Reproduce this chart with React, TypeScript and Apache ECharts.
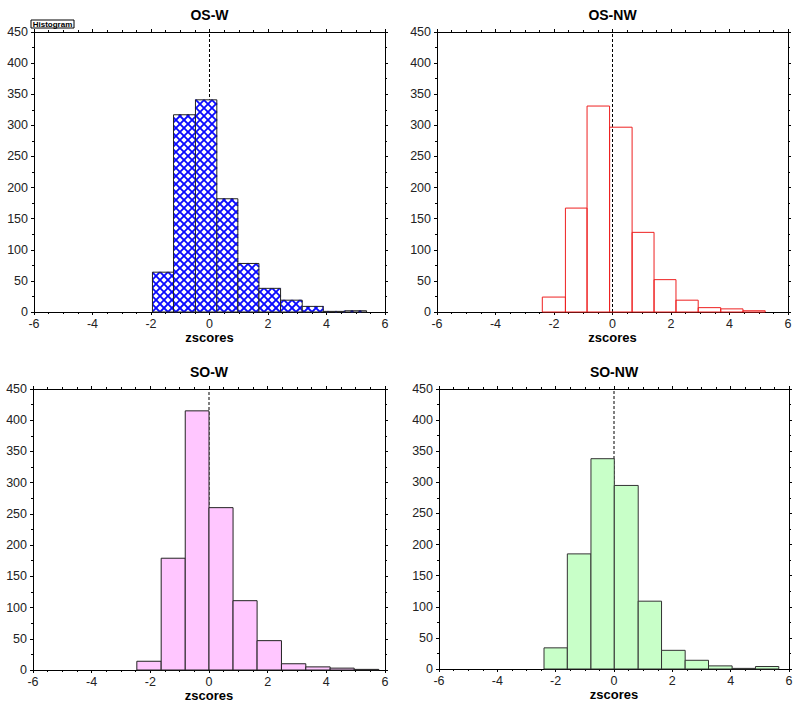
import React, { useEffect, useRef } from "react";
import * as echarts from "echarts";

const panelTitles = ["OS-W", "OS-NW", "SO-W", "SO-NW"];

// bin edges (zscores) and counts
const osWEdges = [-1.95, -1.23, -0.48, 0.25, 0.97, 1.69, 2.43, 3.17, 3.89, 4.63, 5.37];
const osWCounts = [64, 317, 341, 182, 78, 38, 19, 9, 1, 2];

const osNWEdges = [-2.4, -1.61, -0.87, -0.1, 0.67, 1.42, 2.17, 2.93, 3.7, 4.46, 5.22];
const osNWCounts = [24, 167, 331, 297, 128, 52, 19, 7, 5, 2];

const soWEdges = [-2.46, -1.63, -0.81, 0.0, 0.82, 1.64, 2.47, 3.3, 4.13, 4.95, 5.79];
const soWCounts = [14, 179, 415, 260, 111, 47, 10, 5, 3, 1];

const soNWEdges = [-2.4, -1.6, -0.79, 0.01, 0.83, 1.63, 2.44, 3.24, 4.05, 4.85, 5.65];
const soNWCounts = [34, 185, 338, 295, 109, 30, 14, 5, 1, 4];

const xMin = -6;
const xMax = 6;
const xStep = 2;
const yMin = 0;
const yMax = 450;
const yStep = 50;
const refLineX = 0;

const FONT = "'Liberation Sans', Arial, Helvetica, sans-serif";

const panels = [
  { edges: osWEdges, counts: osWCounts, kind: "hatch", fill: "#ffffff", stroke: "#222222" },
  { edges: osNWEdges, counts: osNWCounts, kind: "plain", fill: "none", stroke: "#ee2020" },
  { edges: soWEdges, counts: soWCounts, kind: "plain", fill: "#ffc6ff", stroke: "#222222" },
  { edges: soNWEdges, counts: soNWCounts, kind: "plain", fill: "#c8ffc8", stroke: "#333333" },
];

const grids = [
  { left: 34, top: 32, width: 351, height: 280 },
  { left: 437, top: 32, width: 351, height: 280 },
  { left: 33, top: 389, width: 352, height: 281 },
  { left: 439, top: 389, width: 350, height: 280 },
];
const titleYs = [15, 15, 372, 372];

function makeRenderItem(kind: string, fill: string, stroke: string) {
  return (params: any, api: any) => {
    const x0 = api.value(0);
    const x1 = api.value(1);
    const h = api.value(2);
    const a = api.coord([x0, 0]);
    const b = api.coord([x1, h]);
    const L = a[0];
    const R = b[0];
    const T = b[1];
    const B = a[1];
    const children: any[] = [];
    if (kind === "hatch") {
      children.push({
        type: "rect",
        shape: { x: L, y: T, width: R - L, height: B - T },
        style: { fill: "#ffffff" },
      });
      const s = 8;
      const hs = { stroke: "#0a0aff", lineWidth: 1.8 };
      for (let k = Math.ceil((L + T) / s) * s; k <= R + B; k += s) {
        const xs = Math.max(L, k - B);
        const xe = Math.min(R, k - T);
        if (xe > xs) children.push({ type: "line", shape: { x1: xs, y1: k - xs, x2: xe, y2: k - xe }, style: hs });
      }
      for (let k = Math.ceil((L - B) / s) * s; k <= R - T; k += s) {
        const xs = Math.max(L, k + T);
        const xe = Math.min(R, k + B);
        if (xe > xs) children.push({ type: "line", shape: { x1: xs, y1: xs - k, x2: xe, y2: xe - k }, style: hs });
      }
      children.push({
        type: "rect",
        shape: { x: L, y: T, width: R - L, height: B - T },
        style: { fill: "none", stroke, lineWidth: 1 },
      });
    } else {
      children.push({
        type: "rect",
        shape: { x: L, y: T, width: R - L, height: B - T },
        style: { fill, stroke, lineWidth: 1 },
      });
    }
    return { type: "group", children };
  };
}

export default function App() {
  const ref = useRef<HTMLDivElement>(null);
  useEffect(() => {
    if (!ref.current) return;
    const chart = echarts.init(ref.current, null, { renderer: "svg" });
    const axisColor = "#000000";
    const xAxes: any[] = [];
    const yAxes: any[] = [];
    const series: any[] = [];
    const graphics: any[] = [];
    grids.forEach((g, i) => {
      const baseX = {
        gridIndex: i,
        type: "value",
        min: xMin,
        max: xMax,
        interval: xStep,
        axisLine: { show: true, onZero: false, lineStyle: { color: axisColor, width: 1 } },
        axisTick: { show: true, length: 3, lineStyle: { color: axisColor } },
        minorTick: { show: true, splitNumber: 4, length: 2, lineStyle: { color: axisColor } },
        splitLine: { show: false },
      };
      xAxes.push({
        ...baseX,
        position: "bottom",
        axisLabel: { color: "#222", fontSize: 12.5, fontFamily: FONT, margin: 5 },
        name: "zscores",
        nameLocation: "middle",
        nameGap: 19,
        nameTextStyle: { fontWeight: "bold", fontSize: 13, color: "#000", fontFamily: FONT },
      });
      xAxes.push({
        ...baseX,
        position: "top",
        axisLabel: { show: false },
      });
      const baseY = {
        gridIndex: i,
        type: "value",
        min: yMin,
        max: yMax,
        interval: yStep,
        axisLine: { show: true, onZero: false, lineStyle: { color: axisColor, width: 1 } },
        axisTick: { show: true, length: 3, lineStyle: { color: axisColor } },
        minorTick: { show: true, splitNumber: 2, length: 2, lineStyle: { color: axisColor } },
        splitLine: { show: false },
      };
      yAxes.push({
        ...baseY,
        position: "left",
        axisLabel: { color: "#222", fontSize: 12.5, fontFamily: FONT, margin: 6 },
      });
      yAxes.push({
        ...baseY,
        position: "right",
        axisLabel: { show: false },
      });
      const p = panels[i];
      const data = p.counts.map((c, j) => [p.edges[j], p.edges[j + 1], c]);
      series.push({
        type: "line",
        xAxisIndex: 2 * i,
        yAxisIndex: 2 * i,
        data: [
          [refLineX, yMin],
          [refLineX, yMax],
        ],
        symbol: "none",
        silent: true,
        z: 1,
        lineStyle: { color: "#000", width: 1, type: [3, 2] },
      });
      series.push({
        type: "custom",
        xAxisIndex: 2 * i,
        yAxisIndex: 2 * i,
        data,
        encode: { x: [0, 1], y: 2 },
        renderItem: makeRenderItem(p.kind, p.fill, p.stroke),
        z: 2,
        silent: true,
      });
      graphics.push({
        type: "text",
        x: g.left + g.width / 2,
        y: titleYs[i],
        style: {
          text: panelTitles[i],
          font: `bold 14px ${FONT}`,
          fill: "#000",
          align: "center",
          verticalAlign: "middle",
          textAlign: "center",
          textVerticalAlign: "middle",
        },
      });
    });
    graphics.push({
      type: "rect",
      shape: { x: 31, y: 20, width: 43, height: 8 },
      style: { fill: "#fff", stroke: "#000", lineWidth: 1 },
    });
    graphics.push({
      type: "text",
      x: 52.5,
      y: 24.5,
      style: {
        text: "Histogram",
        font: `bold 8px ${FONT}`,
        fill: "#000",
        align: "center",
        verticalAlign: "middle",
        textAlign: "center",
        textVerticalAlign: "middle",
      },
    });
    chart.setOption({
      animation: false,
      backgroundColor: "#ffffff",
      grid: grids.map((g) => ({ ...g, containLabel: false })),
      xAxis: xAxes,
      yAxis: yAxes,
      series,
      graphic: graphics,
    });
    return () => chart.dispose();
  }, []);
  return (
    <div
      ref={ref}
      style={{ position: "fixed", left: 0, top: 0, width: 800, height: 710, background: "#fff" }}
    />
  );
}
